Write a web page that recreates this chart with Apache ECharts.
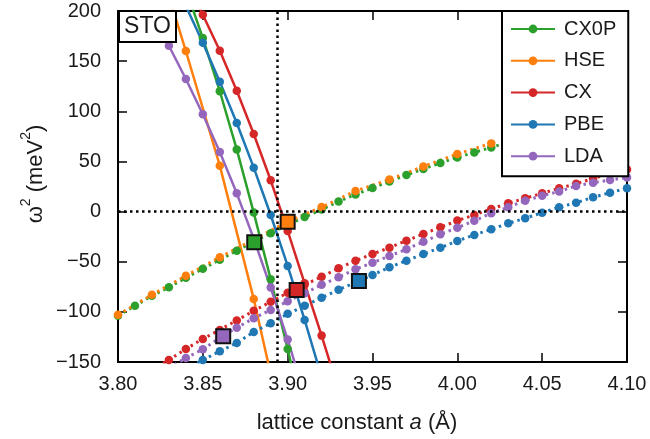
<!DOCTYPE html>
<html><head><meta charset="utf-8">
<script src="https://cdn.jsdelivr.net/npm/echarts@6/dist/echarts.min.js"></script>
<style>html,body{margin:0;padding:0;background:#fff}#c{width:650px;height:439px}</style>
</head><body><div id="c"></div>
<script>
// ---------------- data ----------------
const names = ['CX0P', 'HSE', 'CX', 'PBE', 'LDA'];
const xRange = [3.80, 4.10];
const yRange = [-150, 200];
const xStep = 0.05;
const yStep = 50;
const refLineX = 3.894;   // vertical dotted reference
const refLineY = 0;       // horizontal dotted reference

// steep (soft-mode) branch, solid lines
const cx0pSteepX = [3.84, 3.85, 3.86, 3.87, 3.88, 3.89, 3.90, 3.91];
const cx0pSteepY = [222, 173, 120, 62, -1, -67.5, -137, -210];
const hseSteepX = [3.83, 3.84, 3.86, 3.88, 3.90];
const hseSteepY = [215, 160.1, 45.8, -87.1, -237];
const cxSteepX = [3.84, 3.85, 3.86, 3.87, 3.88, 3.89, 3.90, 3.91, 3.92, 3.93];
const cxSteepY = [232, 196.3, 160.4, 120.5, 77.4, 31.2, -19.3, -71.5, -123.7, -178];
const pbeSteepX = [3.84, 3.85, 3.86, 3.87, 3.88, 3.89, 3.90, 3.91, 3.92];
const pbeSteepY = [205, 168.4, 129.5, 88.3, 43.8, -3.4, -54.2, -108.1, -165];
const ldaSteepX = [3.83, 3.84, 3.85, 3.86, 3.87, 3.88, 3.89, 3.90, 3.91];
const ldaSteepY = [165.4, 132.2, 97, 59.4, 18.2, -27, -75.7, -127.6, -183];

// rising branch, dotted lines
const cx0pRiseX = [3.80, 3.81, 3.82, 3.83, 3.84, 3.85, 3.86, 3.87, 3.88, 3.89, 3.90, 3.91, 3.92, 3.93, 3.94, 3.95, 3.96, 3.97, 3.98, 3.99, 4.00, 4.01, 4.02, 4.03];
const cx0pRiseY = [-104, -94, -84, -75.5, -66, -57, -48, -39, -30, -21.5, -13, -5.5, 2, 10, 17, 23.5, 30, 36.5, 42.5, 48.5, 54, 59, 64, 69];
const hseRiseX = [3.80, 3.82, 3.84, 3.86, 3.88, 3.90, 3.92, 3.94, 3.96, 3.98, 4.00, 4.02];
const hseRiseY = [-103, -83, -64, -45.5, -28, -10, 4.5, 20.5, 32, 45, 57.5, 68];
const cxRiseX = [3.82, 3.83, 3.84, 3.85, 3.86, 3.87, 3.88, 3.89, 3.90, 3.91, 3.92, 3.93, 3.94, 3.95, 3.96, 3.97, 3.98, 3.99, 4.00, 4.01, 4.02, 4.03, 4.04, 4.05, 4.06, 4.07, 4.08, 4.09, 4.10];
const cxRiseY = [-158, -148, -137, -127, -118, -108.5, -99, -90, -81, -73, -65, -56.5, -49, -42.3, -36, -29, -22.3, -15.7, -9, -3.4, 2.6, 8.3, 13.3, 18.3, 23.2, 27.8, 33, 38, 42];
const pbeRiseX = [3.84, 3.85, 3.86, 3.87, 3.88, 3.89, 3.90, 3.91, 3.92, 3.93, 3.94, 3.95, 3.96, 3.97, 3.98, 3.99, 4.00, 4.01, 4.02, 4.03, 4.04, 4.05, 4.06, 4.07, 4.08, 4.09, 4.10];
const pbeRiseY = [-157, -148, -139.3, -131, -120, -111.4, -102, -94, -86, -78, -70.5, -63.2, -55.5, -49, -42.3, -36, -29.3, -23.3, -17.7, -11.7, -6.7, -1.1, 4.3, 8.9, 14.2, 18.8, 23.2];
const ldaRiseX = [3.83, 3.84, 3.85, 3.86, 3.87, 3.88, 3.89, 3.90, 3.91, 3.92, 3.93, 3.94, 3.95, 3.96, 3.97, 3.98, 3.99, 4.00, 4.01, 4.02, 4.03, 4.04, 4.05, 4.06, 4.07, 4.08, 4.09, 4.10];
const ldaRiseY = [-156, -146, -137.3, -126, -115.8, -106.4, -98.1, -89.5, -81.5, -73, -65.5, -57.5, -51, -44.3, -37.6, -30, -22.6, -16.1, -9.1, -1.7, 4.3, 10.9, 15.9, 20, 25.5, 28.8, 31.5, 34];

// crossing markers (squares)
const crossNames = ['CX0P', 'HSE', 'CX', 'PBE', 'LDA'];
const crossX = [3.8803, 3.900, 3.9053, 3.942, 3.862];
const crossY = [-30.5, -10.1, -78.2, -69.2, -124.2];

// ---------------- styles ----------------
const colors = { CX0P: '#2ca02c', HSE: '#ff7f0e', CX: '#d62728', PBE: '#1f77b4', LDA: '#9467bd' };
const FONT = 'Liberation Sans, Arial, Helvetica, sans-serif';
const TXT = '#1a1a1a';

const steep = { CX0P: [cx0pSteepX, cx0pSteepY], HSE: [hseSteepX, hseSteepY], CX: [cxSteepX, cxSteepY], PBE: [pbeSteepX, pbeSteepY], LDA: [ldaSteepX, ldaSteepY] };
const rise = { CX0P: [cx0pRiseX, cx0pRiseY], HSE: [hseRiseX, hseRiseY], CX: [cxRiseX, cxRiseY], PBE: [pbeRiseX, pbeRiseY], LDA: [ldaRiseX, ldaRiseY] };
const zip = (xs, ys) => xs.map((x, i) => [x, ys[i]]);

const series = [];
series.push({
  type: 'line', name: 'ref', data: [], silent: true, z: 1,
  markLine: {
    silent: true, symbol: 'none', label: { show: false }, animation: false, precision: 6,
    lineStyle: { color: '#000', type: [2.5, 3.5], width: 2.5 },
    data: [{ xAxis: refLineX }, { yAxis: refLineY }]
  }
});
names.forEach(n => {
  series.push({
    type: 'line', name: n, data: zip(steep[n][0], steep[n][1]),
    clip: true, symbol: 'circle', symbolSize: 8.5, showSymbol: true,
    lineStyle: { color: colors[n], width: 2.5 }, itemStyle: { color: colors[n], opacity: 1 },
    emphasis: { disabled: true }
  });
  series.push({
    type: 'line', name: n + ' (2)', data: zip(rise[n][0], rise[n][1]),
    clip: true, symbol: 'circle', symbolSize: 8.5,
    lineStyle: { color: colors[n], width: 3, type: [2.5, 4] }, itemStyle: { color: colors[n], opacity: 1 },
    emphasis: { disabled: true }
  });
});
series.push({
  type: 'scatter', name: 'crossings', z: 5, symbol: 'rect', symbolSize: 14,
  data: crossNames.map((n, i) => ({ value: [crossX[i], crossY[i]], itemStyle: { color: colors[n], borderColor: '#111', borderWidth: 2, opacity: 1 } })),
  itemStyle: { opacity: 1 },
  emphasis: { disabled: true }
});

const axisCommon = {
  axisLine: { show: true, onZero: false, lineStyle: { color: '#000', width: 2 } },
  axisTick: { show: true, inside: true, length: 9, lineStyle: { color: '#000', width: 1.5 } },
  splitLine: { show: false }
};

const option = {
  animation: false,
  backgroundColor: '#fff',
  grid: { left: 118, right: 23, top: 11, bottom: 77, containLabel: false, outerBoundsMode: 'none' },
  xAxis: [
    Object.assign({}, axisCommon, {
      type: 'value', position: 'bottom', min: xRange[0], max: xRange[1], interval: xStep,
      axisLabel: { formatter: v => v.toFixed(2), fontSize: 20, color: TXT, fontFamily: FONT, margin: 12 }
    }),
    Object.assign({}, axisCommon, {
      type: 'value', position: 'top', min: xRange[0], max: xRange[1], interval: xStep,
      axisLabel: { show: false }
    })
  ],
  yAxis: [
    Object.assign({}, axisCommon, {
      type: 'value', position: 'left', min: yRange[0], max: yRange[1], interval: yStep,
      axisLabel: { formatter: v => (v < 0 ? '\u2212' + Math.abs(v) : String(v)), fontSize: 20, color: TXT, fontFamily: FONT, margin: 17 }
    }),
    Object.assign({}, axisCommon, {
      type: 'value', position: 'right', min: yRange[0], max: yRange[1], interval: yStep,
      axisLabel: { show: false }
    })
  ],
  legend: {
    data: names, orient: 'vertical', left: 502, top: 11, z: 10,
    backgroundColor: '#fff', borderColor: '#000', borderWidth: 2,
    padding: [8, 12, 10, 8], itemGap: 11.8, itemWidth: 44, itemHeight: 11,
    selectedMode: false,
    textStyle: { fontSize: 20, color: TXT, fontFamily: FONT, lineHeight: 20, padding: [0, 0, 0, 4] }
  },
  graphic: [
    { type: 'rect', z: 20, shape: { x: 119, y: 11, width: 57, height: 31 }, style: { fill: '#fff', stroke: '#000', lineWidth: 2 } },
    { type: 'text', z: 21, x: 147.5, y: 27, style: { text: 'STO', fontSize: 23, fontFamily: FONT, fill: TXT, align: 'center', verticalAlign: 'middle' } },
    { type: 'text', z: 21, x: 33, y: 174, rotation: Math.PI / 2, style: {
        text: '{n|\u03c9}{s|2}{n| (meV}{s|2}{n|)}', fontSize: 22, fontFamily: FONT, fill: TXT, align: 'center', verticalAlign: 'middle',
        rich: {
          n: { fontSize: 22, fontFamily: FONT, fill: TXT, lineHeight: 28, verticalAlign: 'bottom' },
          s: { fontSize: 14, fontFamily: FONT, fill: TXT, lineHeight: 14, verticalAlign: 'top' }
        } } },
    { type: 'text', z: 21, x: 357, y: 423, style: {
        text: 'lattice constant {i|a} (\u00c5)', fontSize: 22, fontFamily: FONT, fill: TXT, align: 'center', verticalAlign: 'middle',
        rich: { i: { fontStyle: 'italic', fontSize: 22, fontFamily: FONT, fill: TXT } } } }
  ],
  series: series
};

const chart = echarts.init(document.getElementById('c'), null, { renderer: 'canvas' });
chart.setOption(option);
</script>
</body></html>
